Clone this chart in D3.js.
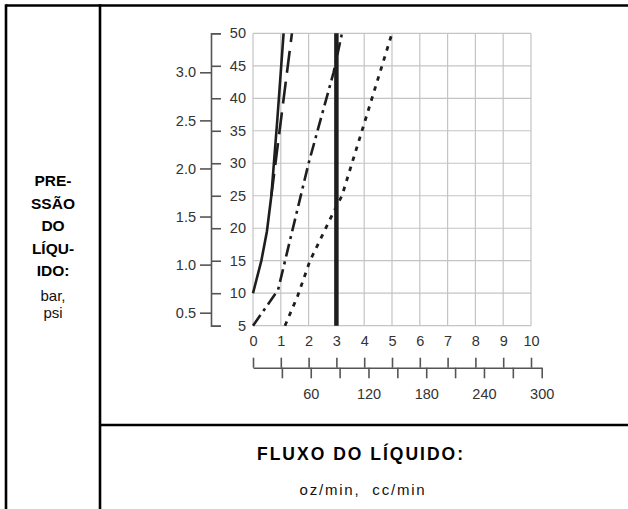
<!DOCTYPE html>
<html><head><meta charset="utf-8">
<script src="https://cdn.jsdelivr.net/npm/d3@7"></script>
<style>body{margin:0;background:#fff}svg{display:block}</style>
</head><body>
<script>
// ---- data ----
const ozTicks = [0,1,2,3,4,5,6,7,8,9,10];
const ccTicks = [30,60,90,120,150,180,210,240,270,300];
const ccLabels = [60,120,180,240,300];
const psiTicks = [5,10,15,20,25,30,35,40,45,50];
const barTicks = [0.5,1.0,1.5,2.0,2.5,3.0];
const solidThin = [[0,10],[0.3,15],[0.5,19.5],[0.66,25],[0.88,37],[1.1,50]];
const longDash = [[0.66,25],[1.4,50]];
const dashDot = [[0,5],[0.9,10.5],[2,30],[2.9,44],[3.2,50]];
const dotted = [[1.15,5],[1.6,9.5],[2.05,15],[2.9,22.5],[3.2,25],[5,50]];
const thick = [[3,5],[3,50]];
const leftTitle = ["PRE-","SSÃO","DO","LÍQU-","IDO:"];
const leftUnits = ["bar,","psi"];
const bottomTitle = "FLUXO DO LÍQUIDO:";
const bottomUnits = "oz/min,\u00a0 cc/min";

const W=628,H=509;
const svg=d3.select("body").append("svg").attr("width",W).attr("height",H);

const x=d3.scaleLinear([0,10],[253,531]);
const y=d3.scaleLinear([5,50],[325.7,33.3]);
const yBar=d3.scaleLinear([0.5,3],[312.7,72.3]);
const xcc=d3.scaleLinear([0,300],[253,541.7]);

// frame
const frame=svg.append("g").attr("stroke","#000").attr("stroke-width",2.6);
frame.append("line").attr("x1",6).attr("x2",W).attr("y1",5.5).attr("y2",5.5);
frame.append("line").attr("x1",6).attr("x2",6).attr("y1",4.2).attr("y2",H);
frame.append("line").attr("x1",100).attr("x2",100).attr("y1",4.2).attr("y2",H);
frame.append("line").attr("x1",100).attr("x2",W).attr("y1",425).attr("y2",425);

// grid
const grid=svg.append("g").attr("stroke","#c4c4c4").attr("stroke-width",1.2);
grid.selectAll(".v").data(ozTicks).join("line").attr("x1",d=>x(d)).attr("x2",d=>x(d)).attr("y1",y(50)).attr("y2",y(5));
grid.selectAll(".h").data(psiTicks).join("line").attr("x1",x(0)).attr("x2",x(10)).attr("y1",d=>y(d)).attr("y2",d=>y(d));

function styleAxis(g){
  g.selectAll("path,line").attr("stroke","#555").attr("stroke-width",1.6);
  g.selectAll("text").attr("fill","#333").style("font-family","'Liberation Sans',Arial,sans-serif").style("font-size","14.5px");
}

// psi axis (right ticks)
const gPsi=svg.append("g").attr("transform","translate(211,0)")
  .call(d3.axisRight(y).tickValues(psiTicks).tickSize(10).tickSizeOuter(10).tickFormat(d3.format("d")));
gPsi.selectAll("text").attr("x",35).attr("text-anchor","end");
styleAxis(gPsi);

// bar axis (left ticks)
const gBar=svg.append("g").attr("transform","translate(211,0)")
  .call(d3.axisLeft(yBar).tickValues(barTicks).tickSize(11).tickPadding(4).tickFormat(d3.format(".1f")));
gBar.select(".domain").remove();
styleAxis(gBar);

// oz axis (ticks up)
const gOz=svg.append("g").attr("transform","translate(0,367.7)")
  .call(d3.axisTop(x).tickValues(ozTicks).tickSize(10).tickPadding(12).tickFormat(d3.format("d")));
gOz.select(".domain").remove();
styleAxis(gOz);

// cc axis (ticks down)
const gCc=svg.append("g").attr("transform","translate(0,367.7)")
  .call(d3.axisBottom(xcc).tickValues(ccTicks).tickSize(10.6).tickSizeOuter(0).tickPadding(10)
    .tickFormat(d=>ccLabels.includes(d)?d:""));
styleAxis(gCc);

// curves
const line=d3.line().x(d=>x(d[0])).y(d=>y(d[1]));
const curves=svg.append("g").attr("fill","none").attr("stroke","#1e1e1e");
curves.append("path").datum(solidThin).attr("d",line).attr("stroke-width",2.6);
curves.append("path").datum(longDash).attr("d",line).attr("stroke-width",2.6).attr("stroke-dasharray","22,9");
curves.append("path").datum(dashDot).attr("d",line).attr("stroke-width",2.6).attr("stroke-dasharray","13,5,3,5");
curves.append("path").datum(dotted).attr("d",line).attr("stroke-width",2.8).attr("stroke-dasharray","4.5,6");
curves.append("path").datum(thick).attr("d",line).attr("stroke-width",4.5);

// titles
const tf="'Liberation Sans',Arial,sans-serif";
svg.append("g").selectAll("text").data(leftTitle).join("text")
  .attr("x",53).attr("y",(d,i)=>186+i*22.5).attr("text-anchor","middle")
  .style("font-family",tf).style("font-weight","bold").style("font-size","15.5px").text(d=>d);
svg.append("g").selectAll("text").data(leftUnits).join("text")
  .attr("x",53).attr("y",(d,i)=>301+i*17).attr("text-anchor","middle")
  .style("font-family",tf).style("font-size","15px").attr("fill","#111").text(d=>d);
svg.append("text").attr("x",361).attr("y",460).attr("text-anchor","middle")
  .style("font-family",tf).style("font-weight","bold").style("font-size","17.5px").style("letter-spacing","2px").text(bottomTitle);
svg.append("text").attr("x",363).attr("y",495).attr("text-anchor","middle")
  .style("font-family",tf).style("font-size","15px").style("letter-spacing","1.8px").attr("fill","#111").text(bottomUnits);
</script>
</body></html>
